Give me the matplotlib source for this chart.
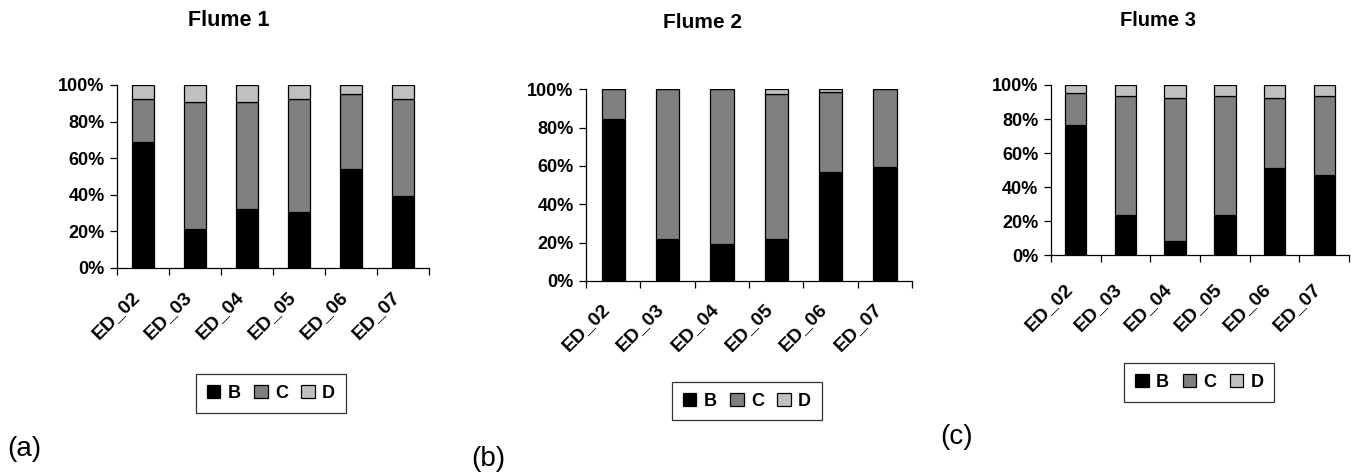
import matplotlib
matplotlib.use('Agg')
import matplotlib.pyplot as plt
import matplotlib.transforms as mtransforms
import numpy as np

plt.rcParams['font.family'] = ['Liberation Sans', 'DejaVu Sans']

samples = ['ED_02', 'ED_03', 'ED_04', 'ED_05', 'ED_06', 'ED_07']
series_names = ['B', 'C', 'D']

# percentages per sample
flume1_b = [69.0, 21.3, 32.5, 30.7, 54.2, 39.3]
flume1_c = [23.2, 69.6, 58.4, 61.5, 40.9, 52.9]
flume1_d = [7.8, 9.1, 9.1, 7.8, 4.9, 7.8]

flume2_b = [84.3, 22.1, 19.5, 22.1, 57.0, 59.7]
flume2_c = [15.7, 77.9, 80.5, 75.3, 41.6, 40.3]
flume2_d = [0.0, 0.0, 0.0, 2.6, 1.4, 0.0]

flume3_b = [76.5, 23.7, 8.4, 23.7, 51.1, 47.0]
flume3_c = [19.0, 70.0, 84.2, 70.0, 41.5, 46.7]
flume3_d = [4.5, 6.3, 7.4, 6.3, 7.4, 6.3]

titles = ['Flume 1', 'Flume 2', 'Flume 3']
panel_tags = ['(a)', '(b)', '(c)']
colors = ['#000000', '#808080', '#c0c0c0']

panels = [(flume1_b, flume1_c, flume1_d),
          (flume2_b, flume2_c, flume2_d),
          (flume3_b, flume3_c, flume3_d)]

fig = plt.figure(figsize=(13.61, 4.74), dpi=100)

# axes boxes (left, bottom, width, height)
ax_boxes = [[0.0860, 0.4346, 0.2292, 0.3861],
            [0.4306, 0.4072, 0.2395, 0.4044],
            [0.7722, 0.4614, 0.2190, 0.3593]]
title_pos = [(0.1683, 0.9557), (0.5165, 0.9515), (0.8508, 0.9557)]
title_size = [15.5, 15, 14.5]
legend_pos = [(0.1991, 0.1698), (0.5489, 0.1540), (0.8813, 0.1930)]
tag_pos = [(0.0176, 0.0527), (0.3586, 0.0316), (0.7032, 0.0781)]
label_pad = [15, 14, 18]

x = np.arange(len(samples))
shift_left = mtransforms.ScaledTranslation(-6 / 100, 0, fig.dpi_scale_trans)

for i, (b, c, d) in enumerate(panels):
    ax = fig.add_axes(ax_boxes[i])
    bottom = np.zeros(len(samples))
    handles = []
    for name, vals, col in zip(series_names, (b, c, d), colors):
        h = ax.bar(x, vals, width=0.43, bottom=bottom, color=col,
                   edgecolor='black', linewidth=0.9, label=name)
        handles.append(h)
        bottom = bottom + np.array(vals)

    ax.set_xlim(-0.5, len(samples) - 0.5)
    ax.set_ylim(0, 100)
    ax.set_yticks(np.arange(0, 101, 20))
    ax.set_yticklabels(['%d%%' % v for v in range(0, 101, 20)],
                       fontsize=13, fontweight='bold')
    # tick marks between categories, labels at the centres
    ax.set_xticks(np.arange(-0.5, len(samples)))
    ax.set_xticklabels([])
    ax.set_xticks(x, minor=True)
    ax.set_xticklabels(samples, minor=True, rotation=45, ha='right',
                       fontsize=14, fontweight='bold')
    for lab in ax.get_xticklabels(minor=True):
        lab.set_transform(lab.get_transform() + shift_left)
    ax.tick_params(axis='x', which='minor', length=0, pad=label_pad[i])
    ax.tick_params(axis='x', which='major', length=5, width=0.9, direction='out')
    ax.tick_params(axis='y', length=5, width=0.9, direction='out', pad=4)
    ax.spines['top'].set_visible(False)
    ax.spines['right'].set_visible(False)
    ax.spines['left'].set_linewidth(0.9)
    ax.spines['bottom'].set_linewidth(0.9)

    fig.text(title_pos[i][0], title_pos[i][1], titles[i], ha='center',
             va='center', fontsize=title_size[i], fontweight='bold')
    fig.text(tag_pos[i][0], tag_pos[i][1], panel_tags[i], ha='center',
             va='center', fontsize=20)

    leg = fig.legend(handles=handles, labels=series_names, ncol=3,
                     loc='center', bbox_to_anchor=legend_pos[i],
                     prop={'weight': 'bold', 'size': 13},
                     handlelength=0.75, handleheight=0.75, handletextpad=0.4,
                     columnspacing=0.75, borderpad=0.6, fancybox=False,
                     frameon=True)
    leg.get_frame().set_edgecolor('black')
    leg.get_frame().set_linewidth(0.9)

plt.savefig('out.png', dpi=100)
